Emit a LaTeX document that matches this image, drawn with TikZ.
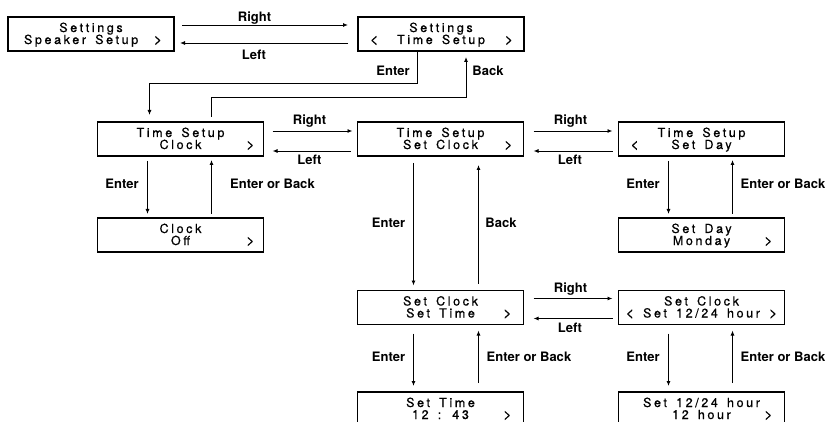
\documentclass[tikz,border=0pt]{standalone}
\usepackage{fontspec}
\setmainfont{TeX Gyre Heros}
\newfontfamily\lcdfont[LetterSpace=21,WordSpace=1.5,FakeBold=0.7]{TeX Gyre Heros}
\usetikzlibrary{arrows.meta}
\newcommand\dispbox[4]{%
  \node[disp] (#1) at (#2) {};
  \node[lcd] (#1-l1) at ([shift={(0,-2)}]#1.center) {#3};
  \node[lcd] (#1-l2) at ([shift={(0,10)}]#1.center) {#4};
}
\newcommand\gtm{{\fontsize{14}{12}\selectfont >}}
\newcommand\ltm{{\fontsize{14}{12}\selectfont <}}
\newcommand\rmark[2][-11]{\node[lcd, anchor=base east] (#2-rm) at ([shift={(#1,10)}]#2.east) {\gtm};}
\newcommand\lmark[1]{\node[lcd, anchor=base west] (#1-lm) at ([shift={(12,10)}]#1.west) {\ltm};}
\begin{document}
\begin{tikzpicture}[x=1pt,y=-1pt,
  disp/.style={draw=black, line width=1.4pt, minimum width=166pt, minimum height=34pt, inner sep=0pt, outer sep=0pt},
  lcd/.style={font=\lcdfont\fontsize{12.5}{12}\selectfont, inner sep=0pt, outer sep=0pt, anchor=base},
  lbl/.style={font=\bfseries\fontsize{13}{14}\selectfont, inner sep=0pt, anchor=base},
  arr/.style={line width=0.9pt, -{Latex[length=5pt,width=4pt]}}]
\clip (0,0) rectangle (827,422);
\fill[white] (0,0) rectangle (827,422);
% boxes
\node[disp] (b1) at (91,34) {};
\node[lcd] (b1-l1) at ([shift={(0,-2)}]b1.center) {Settings};
\node[lcd, anchor=base west] (b1-l2) at ([shift={(16,10)}]b1.west) {Speaker Setup};
\rmark[-12]{b1}
\dispbox{b2}{441,34}{Settings}{Time Setup}\lmark{b2}\rmark{b2}
\dispbox{b3}{180.5,139}{Time Setup}{Clock}\rmark[-9]{b3}
\dispbox{b4}{440.5,139}{Time Setup}{Set Clock}\rmark{b4}
\dispbox{b5}{701.5,139}{Time Setup}{Set Day}\lmark{b5}
\dispbox{b6}{180.5,235}{Clock}{Off}\rmark[-9]{b6}
\dispbox{b7}{701.5,235}{Set Day}{Monday}\rmark[-12]{b7}
\dispbox{b8}{440.5,307.5}{Set Clock}{Set Time}\rmark[-12]{b8}
\dispbox{b9}{701.5,307.5}{Set Clock}{\ltm{} Set 12/24 hour \gtm}
\dispbox{b10}{440.5,409}{Set Time}{12 : 43}\rmark[-12]{b10}
\dispbox{b11}{701.5,409}{Set 12/24 hour}{12 hour}\rmark[-12]{b11}
% top row
\draw[arr] ([shift={(8,8)}]b1.north east) -- ([shift={(-10,8)}]b2.north west);
\draw[arr] ([shift={(-10,-8)}]b2.south west) -- ([shift={(6,-8)}]b1.south east);
\node[lbl] (tR) at (254.5,22) {Right};
\node[lbl] (tL) at (254,60) {Left};
% enter / back loop
\draw[arr] ([shift={(59,0)}]b2.south west) -- ++(0,32) -| ([shift={(52,-7)}]b3.north west);
\draw[arr] ([shift={(114,-5)}]b3.north west) -- ++(0,-20) -| ([shift={(108,6)}]b2.south west);
\node[lbl] (tE) at (393,76) {Enter};
\node[lbl] (tB) at (488,76) {Back};
% row 2
\draw[arr] ([shift={(9,9)}]b3.north east) -- ([shift={(-5,9)}]b4.north west);
\draw[arr] ([shift={(-7,-5)}]b4.south west) -- ([shift={(9,-5)}]b3.south east);
\node[lbl] (r2R) at (309.5,125) {Right};
\node[lbl] (r2L) at (309.5,165) {Left};
\draw[arr] ([shift={(10,9)}]b4.north east) -- ([shift={(-6,9)}]b5.north west);
\draw[arr] ([shift={(-6,-5)}]b5.south west) -- ([shift={(10,-5)}]b4.south east);
\node[lbl] (r2R2) at (570.5,125) {Right};
\node[lbl] (r2L2) at (570,165) {Left};
% row 3
\draw[arr] ([shift={(10,8)}]b8.north east) -- ([shift={(-6,8)}]b9.north west);
\draw[arr] ([shift={(-6,-6)}]b9.south west) -- ([shift={(10,-6)}]b8.south east);
\node[lbl] (r3R) at (570.5,292) {Right};
\node[lbl] (r3L) at (570,332) {Left};
% verticals
\draw[arr] ([shift={(50,5)}]b3.south west) -- ([shift={(50,-4)}]b6.north west);
\draw[arr] ([shift={(114,-4)}]b6.north west) -- ([shift={(114,4)}]b3.south west);
\node[lbl] (v1E) at (122,189) {Enter};
\node[lbl] (v1B) at (272.5,189) {Enter or Back};
\draw[arr] ([shift={(50,5)}]b5.south west) -- ([shift={(50,-4)}]b7.north west);
\draw[arr] ([shift={(114,-4)}]b7.north west) -- ([shift={(114,4)}]b5.south west);
\node[lbl] (v2E) at (643,189) {Enter};
\node[lbl] (v2B) at (783,189) {Enter or Back};
\draw[arr] ([shift={(56,7)}]b4.south west) -- ([shift={(56,-5)}]b8.north west);
\draw[arr] ([shift={(121,-7)}]b8.north west) -- ([shift={(121,9)}]b4.south west);
\node[lbl] (v3E) at (388.5,228) {Enter};
\node[lbl] (v3B) at (501,228) {Back};
\draw[arr] ([shift={(56,9)}]b8.south west) -- ([shift={(56,-6)}]b10.north west);
\draw[arr] ([shift={(121,-9)}]b10.north west) -- ([shift={(121,6)}]b8.south west);
\node[lbl] (v4E) at (388.5,361) {Enter};
\node[lbl] (v4B) at (529,361) {Enter or Back};
\draw[arr] ([shift={(50,9)}]b9.south west) -- ([shift={(50,-6)}]b11.north west);
\draw[arr] ([shift={(114,-9)}]b11.north west) -- ([shift={(114,6)}]b9.south west);
\node[lbl] (v5E) at (643,361) {Enter};
\node[lbl] (v5B) at (783,361) {Enter or Back};
\end{tikzpicture}
\end{document}
